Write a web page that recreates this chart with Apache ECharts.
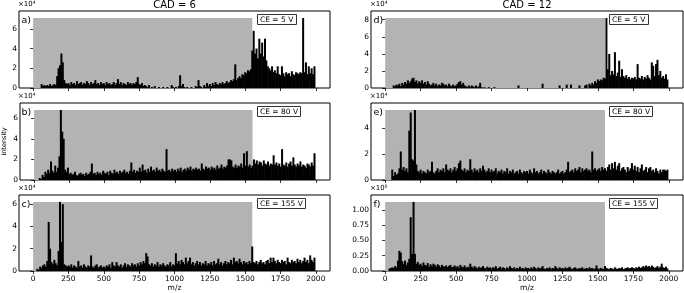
<!DOCTYPE html>
<html><head><meta charset="utf-8">
<script src="https://cdn.jsdelivr.net/npm/echarts@6/dist/echarts.min.js"></script>
<style>html,body{margin:0;padding:0;background:#fff}#c{width:684px;height:293px}</style>
</head><body><div id="c"></div>
<script>
// m/z bin centres (10 m/z bins)
const mz = [
0,10,20,30,40,50,60,70,80,90,100,110,120,130,140,150,160,170,180,190,200,210,220,230,240,
250,260,270,280,290,300,310,320,330,340,350,360,370,380,390,400,410,420,430,440,450,460,470,480,490,
500,510,520,530,540,550,560,570,580,590,600,610,620,630,640,650,660,670,680,690,700,710,720,730,740,
750,760,770,780,790,800,810,820,830,840,850,860,870,880,890,900,910,920,930,940,950,960,970,980,990,
1000,1010,1020,1030,1040,1050,1060,1070,1080,1090,1100,1110,1120,1130,1140,1150,1160,1170,1180,1190,1200,1210,1220,1230,1240,
1250,1260,1270,1280,1290,1300,1310,1320,1330,1340,1350,1360,1370,1380,1390,1400,1410,1420,1430,1440,1450,1460,1470,1480,1490,
1500,1510,1520,1530,1540,1550,1560,1570,1580,1590,1600,1610,1620,1630,1640,1650,1660,1670,1680,1690,1700,1710,1720,1730,1740,
1750,1760,1770,1780,1790,1800,1810,1820,1830,1840,1850,1860,1870,1880,1890,1900,1910,1920,1930,1940,1950,1960,1970,1980,1990];
const xTicks = [0,250,500,750,1000,1250,1500,1750,2000];
const shadeRange = [0, 1550];

// intensities in units of the axis exponent (×10⁴ for a–e, ×10⁵ for f)
const intensityA = [
0,0,0,0,0,0,0.4,0.2,0.3,0.2,0.3,0.2,0.4,0.2,0.3,0.4,0.3,1.2,2.0,2.3,3.5,2.6,0.8,0.5,0.4,
0.5,0.3,0.6,0.4,0.5,0.3,0.7,0.4,0.5,0.6,0.3,0.5,0.4,0.7,0.5,0.3,0.6,0.4,0.5,0.8,0.4,0.5,0.3,0.6,0.4,
0.5,0.3,0.6,0.4,0.5,0.3,0.4,0.6,0.3,0.5,0.9,0.4,0.6,0.3,0.5,0.4,0.3,0.6,0.4,0.5,0.3,0.5,0.4,0.6,1.1,
0.4,0.3,0.5,0.2,0.3,0.2,0.1,0.3,0,0.1,0,0.2,0,0,0.1,0,0,0.1,0,0,0.1,0,0,0.3,0.1,
0,0.1,0,0.2,1.3,0.2,0.4,0.1,0,0.1,0,0,0.1,0,0,0.2,0.1,0.8,0.2,0.1,0,0.3,0.1,0.5,0.2,
0.4,0.2,0.5,0.3,0.6,0.4,0.3,0.5,0.4,0.6,0.4,0.5,0.7,0.5,0.6,0.8,0.7,0.9,2.4,0.8,1.0,1.2,1.0,1.4,1.3,
1.6,1.5,1.8,1.7,1.9,3.8,5.8,3.5,4.0,3.0,5.0,3.5,4.6,3.2,5.0,2.8,2.2,2.0,1.8,2.2,1.6,1.8,1.5,2.2,1.4,
1.3,2.2,1.5,1.2,1.6,1.4,1.5,1.2,1.7,1.4,1.3,1.6,1.5,1.4,1.6,1.5,7.1,1.6,2.6,1.4,2.2,1.5,2.0,1.4,2.2];
const intensityB = [
0,0,0,0,0.2,0.1,0.5,0.3,0.8,0.6,1.0,0.7,1.8,0.9,0.7,1.4,0.8,1.2,2.3,6.8,4.7,4.0,1.0,0.8,1.2,
0.6,0.7,0.5,0.6,0.8,0.5,0.4,0.6,0.7,0.5,0.6,0.4,0.7,0.5,0.6,0.8,1.6,0.6,0.7,0.5,0.8,0.6,0.7,0.5,0.9,
0.7,0.6,0.8,0.5,0.9,0.7,0.6,1.0,0.7,0.8,0.6,0.9,0.7,0.8,1.0,0.7,0.8,0.6,0.9,1.7,0.8,1.0,0.7,0.9,0.8,
1.2,0.8,1.5,0.9,1.0,0.7,1.1,0.8,1.3,0.9,1.0,0.8,1.2,0.9,1.0,0.8,1.1,0.9,0.8,3.0,0.9,1.0,0.8,1.1,0.9,
1.0,0.8,1.1,0.9,1.2,0.8,1.0,1.1,0.9,1.2,1.0,1.3,0.9,1.1,1.0,1.2,1.0,1.1,0.9,1.6,1.1,1.0,1.3,1.1,1.2,
1.0,1.3,1.1,1.2,1.0,1.4,1.1,1.2,1.5,1.1,1.3,1.2,1.4,2.0,2.0,1.9,1.3,1.2,1.5,1.2,1.4,1.3,1.6,1.2,2.6,
1.4,2.8,1.3,1.5,1.2,1.4,2.0,1.6,1.9,1.5,1.8,1.7,1.4,1.9,1.6,1.5,1.8,1.4,1.6,1.5,2.4,1.5,1.7,1.4,1.6,
1.3,3.0,1.5,1.4,1.7,1.3,1.6,1.8,1.4,2.2,1.5,1.3,1.6,1.4,1.8,1.3,1.5,1.4,1.2,1.6,1.5,1.3,1.7,1.4,2.6];
const intensityC = [
0,0,0,0.2,0.1,0.4,0.3,0.5,0.6,0.4,0.9,4.4,2.0,0.8,0.6,1.0,0.7,0.5,1.8,6.2,2.6,6.0,0.6,0.5,0.4,
0.5,0.4,0.6,0.3,0.5,0.4,0.3,0.9,0.4,0.5,0.3,0.6,0.4,0.3,0.5,0.4,1.4,0.4,0.3,0.5,0.6,0.3,0.4,0.5,0.3,
0.4,0.3,0.5,0.4,0.6,0.3,0.8,0.5,0.4,0.8,0.5,0.4,0.6,0.3,0.5,0.7,0.4,0.6,0.5,0.4,0.7,0.5,0.6,0.4,0.7,
0.5,0.8,0.6,0.9,0.7,1.6,1.3,0.6,0.5,0.7,0.4,0.6,0.5,0.8,0.4,0.6,0.5,0.7,0.5,0.4,0.6,0.5,0.8,0.4,0.6,
0.5,1.6,0.7,0.9,0.6,1.0,0.8,0.6,1.2,0.7,0.9,1.2,0.6,0.8,0.5,0.7,0.9,0.6,0.8,0.5,0.7,0.6,0.9,0.5,0.7,
0.6,0.8,0.5,0.9,0.6,0.7,1.1,0.6,0.8,0.5,0.7,0.9,0.6,0.8,0.7,1.0,0.6,1.2,0.8,0.9,0.7,1.1,0.8,0.6,0.9,
0.7,0.8,0.6,0.9,0.7,2.2,0.8,0.7,0.9,0.6,0.8,1.0,0.7,0.8,0.6,0.9,1.0,0.7,1.2,0.8,1.2,0.9,0.7,1.0,0.8,
0.7,1.0,0.8,0.9,0.6,1.2,0.8,0.7,1.0,0.8,0.9,0.7,1.1,0.8,1.0,0.7,0.9,1.2,0.8,1.0,0.7,1.4,1.0,0.8,1.2];
const intensityD = [
0,0,0,0,0,0,0.3,0.2,0.4,0.3,0.5,0.2,0.6,0.4,0.7,0.5,0.9,0.6,0.8,1.1,1.2,0.7,0.9,0.5,0.8,
0.6,0.9,0.5,0.7,0.4,0.8,0.5,0.3,0.4,0.6,0.3,0.5,0.2,0.4,0.3,0.6,0.5,0.3,0.4,0.2,0.5,0.3,0.2,0.4,0.2,
0.3,0.5,0.7,0.8,0.4,0.6,0.3,0.2,0.1,0.3,0.1,0.3,0.2,0.1,0.3,0.1,0.2,0.6,0.1,0,0.1,0,0,0.1,0,
0,0,0.1,0,0,0,0,0,0,0,0,0,0,0,0,0,0,0,0,0.3,0,0,0,0,0,
0,0,0,0,0,0,0,0,0,0,0,0.5,0,0,0,0,0,0,0,0,0,0,0,0.3,0,
0,0,0,0.4,0,0,0.4,0,0,0,0,0,0.3,0,0,0,0.3,0.4,0,0.5,0.3,0.6,0.4,0.8,0.6,
1.0,0.8,1.0,0.9,1.2,1.1,8.2,2.2,4.0,1.5,2.0,1.6,4.2,1.4,1.8,3.2,1.3,2.2,1.4,1.2,1.5,1.1,1.3,1.0,1.2,
1.1,1.3,1.0,2.8,1.2,1.1,1.4,1.0,1.3,1.1,1.5,1.2,1.0,3.0,2.6,1.4,2.8,3.3,1.5,2.0,1.2,1.4,1.1,1.6,1.0];
const intensityE = [
0,0,0,0,0,0.8,0.3,0.6,0.4,0.5,0.9,2.2,0.8,1.0,0.7,0.9,0.6,3.8,5.2,1.6,1.5,5.4,1.2,0.7,0.6,
0.8,0.5,0.7,0.6,0.5,0.8,0.6,0.7,1.4,0.6,0.5,0.7,0.9,0.6,0.8,0.7,0.9,0.6,1.2,0.8,0.7,0.9,0.6,0.8,1.0,
0.7,0.9,1.3,1.5,0.8,0.7,0.9,0.6,0.8,0.7,1.6,0.8,0.6,0.9,0.7,0.8,0.6,0.9,0.7,1.1,0.8,0.6,0.7,0.9,0.6,
0.8,0.6,0.7,0.9,0.5,0.7,0.6,0.8,0.5,0.7,0.6,0.9,0.5,0.7,0.6,0.8,0.5,0.6,0.7,0.5,0.8,0.6,0.5,0.7,0.6,
0.7,0.5,0.8,0.6,0.5,0.9,0.6,0.7,0.5,0.6,0.8,0.5,0.7,0.6,0.5,0.8,0.6,0.5,0.7,0.6,0.5,0.6,0.8,0.5,0.6,
0.7,0.5,0.6,0.8,1.4,0.6,0.7,0.8,0.6,0.9,0.7,0.8,1.0,0.6,0.9,0.7,0.8,0.9,0.7,0.8,0.6,2.2,0.8,0.9,0.7,
0.8,0.9,0.7,1.0,0.8,0.9,0.7,1.0,1.2,0.8,1.3,0.9,1.4,0.8,1.1,1.3,0.7,0.9,1.0,0.8,0.6,1.0,0.7,0.9,1.3,
0.8,1.1,0.7,1.0,0.6,0.9,1.2,0.7,0.8,1.0,0.6,0.9,1.0,0.7,0.8,0.6,0.9,0.7,0.5,0.8,0.6,0.8,0.8,0.7,0.8];
const intensityF = [
0,0,0,0.04,0.05,0.06,0.05,0.08,0.06,0.17,0.33,0.30,0.16,0.12,0.17,0.10,0.14,0.20,0.88,0.28,1.13,0.28,0.12,0.15,0.10,
0.12,0.08,0.14,0.10,0.09,0.13,0.07,0.11,0.08,0.12,0.10,0.07,0.11,0.09,0.06,0.10,0.08,0.07,0.09,0.06,0.08,0.10,0.06,0.07,0.09,
0.06,0.08,0.05,0.10,0.07,0.06,0.09,0.05,0.07,0.06,0.12,0.07,0.05,0.08,0.06,0.04,0.07,0.05,0.06,0.08,0.05,0.04,0.07,0.05,0.06,
0.04,0.06,0.05,0.08,0.04,0.05,0.07,0.04,0.06,0.05,0.03,0.06,0.04,0.08,0.05,0.04,0.06,0.03,0.05,0.04,0.07,0.04,0.05,0.03,0.06,
0.04,0.05,0.03,0.06,0.04,0.07,0.05,0.03,0.06,0.04,0.05,0.08,0.04,0.03,0.05,0.04,0.06,0.03,0.05,0.04,0.08,0.05,0.03,0.06,0.04,
0.05,0.03,0.06,0.04,0.05,0.07,0.04,0.03,0.05,0.06,0.04,0.03,0.05,0.04,0.06,0.03,0.04,0.05,0.03,0.06,0.04,0.05,0.03,0.04,0.09,
0.04,0.03,0.05,0.04,0.03,0.08,0.05,0.04,0.03,0.05,0.04,0.03,0.06,0.04,0.03,0.05,0.04,0.06,0.03,0.04,0.05,0.06,0.04,0.05,0.06,
0.05,0.04,0.06,0.05,0.07,0.05,0.06,0.08,0.06,0.09,0.07,0.08,0.06,0.09,0.07,0.05,0.06,0.08,0.05,0.07,0.12,0.06,0.05,0.07,0.04];

const panelSeries = [intensityA, intensityB, intensityC, intensityD, intensityE, intensityF];
const panelLabels = ['a)','b)','c)','d)','e)','f)'];
const ceLabels = ['CE = 5 V','CE = 80 V','CE = 155 V','CE = 5 V','CE = 80 V','CE = 155 V'];
const columnTitles = ['CAD = 6','CAD = 12'];
const exponentLabels = ['×10⁴','×10⁴','×10⁴','×10⁴','×10⁴','×10⁵'];
const yTicks = [[0,2,4,6],[0,2,4,6],[0,2,4,6],[0,2,4,6,8],[0,2,4],[0,0.25,0.5,0.75,1.0]];
const xAxisTitle = 'm/z';
const yAxisTitle = 'intensity';

// ---- layout ----
const FONT = 'DejaVu Sans';
const colLeft = [19, 371], colWidth = [311, 312];
const rowTop = [11, 103, 195], rowHeight = 77;

const grids = [], xAxes = [], yAxes = [], series = [], titles = [];
for (let p = 0; p < 6; p++) {
  const col = p < 3 ? 0 : 1, row = p % 3;
  const vals = panelSeries[p];
  const vmax = Math.max(...vals);
  grids.push({left: colLeft[col], top: rowTop[row], width: colWidth[col], height: rowHeight,
    show: true, borderColor: '#000', borderWidth: 1, backgroundColor: 'transparent', containLabel: false});
  const bottom = row === 2;
  xAxes.push({type: 'value', gridIndex: p, min: -100, max: 2100,
    axisLine: {show: false}, splitLine: {show: false},
    axisTick: {show: true, inside: false, length: 3, lineStyle: {color: '#000', width: 0.8}, customValues: xTicks},
    axisLabel: {show: bottom, customValues: xTicks, color: '#000', fontFamily: FONT, fontSize: 7.5, margin: 4,
      formatter: v => String(v)},
    name: bottom ? xAxisTitle : '', nameLocation: 'middle', nameGap: 13,
    nameTextStyle: {color: '#000', fontFamily: FONT, fontSize: 7.5}});
  yAxes.push({type: 'value', gridIndex: p, min: 0, max: vmax * 1.1,
    axisLine: {show: false}, splitLine: {show: false},
    axisTick: {show: true, length: 3, lineStyle: {color: '#000', width: 0.8}, customValues: yTicks[p]},
    axisLabel: {customValues: yTicks[p], color: '#000', fontFamily: FONT, fontSize: 7.5, margin: 2,
      formatter: v => p === 5 ? v.toFixed(2) : String(v)},
    name: (p === 1) ? yAxisTitle : '', nameLocation: 'middle', nameGap: 12, nameRotate: 90,
    nameTextStyle: {color: '#000', fontFamily: FONT, fontSize: 6.5}});
  series.push({type: 'bar', xAxisIndex: p, yAxisIndex: p, barWidth: 2, z: 3,
    data: mz.map((m, i) => [m, vals[i]]),
    itemStyle: {color: '#000'}, silent: true,
    markArea: {silent: true, itemStyle: {color: '#b3b3b3', opacity: 1},
      data: [[{coord: [shadeRange[0], 0]}, {coord: [shadeRange[1], vmax]}]]}});
  // panel label
  titles.push({text: panelLabels[p], left: colLeft[col] + 2.5, top: rowTop[row] + 5, padding: 0,
    textStyle: {fontFamily: FONT, fontSize: 9.5, fontWeight: 'normal', color: '#000'}});
  // CE box
  titles.push({text: ceLabels[p], left: colLeft[col] + 238, top: rowTop[row] + 3, padding: [2, 3, 1, 3],
    backgroundColor: '#fff', borderColor: '#333', borderWidth: 1,
    textStyle: {fontFamily: FONT, fontSize: 7.5, fontWeight: 'normal', color: '#000'}});
  // exponent
  titles.push({text: exponentLabels[p], left: colLeft[col] - 1, top: rowTop[row] - 10, padding: 0,
    textStyle: {fontFamily: FONT, fontSize: 7, fontWeight: 'normal', color: '#000'}});
}
for (let c = 0; c < 2; c++) {
  titles.push({text: columnTitles[c], left: colLeft[c] + colWidth[c] / 2, textAlign: 'center', top: 0, padding: 0,
    textStyle: {fontFamily: FONT, fontSize: 10, fontWeight: 'normal', color: '#000'}});
}

const chart = echarts.init(document.getElementById('c'), null, {renderer: 'canvas'});
chart.setOption({animation: false, backgroundColor: '#fff', title: titles,
  grid: grids, xAxis: xAxes, yAxis: yAxes, series: series});
</script></body></html>
